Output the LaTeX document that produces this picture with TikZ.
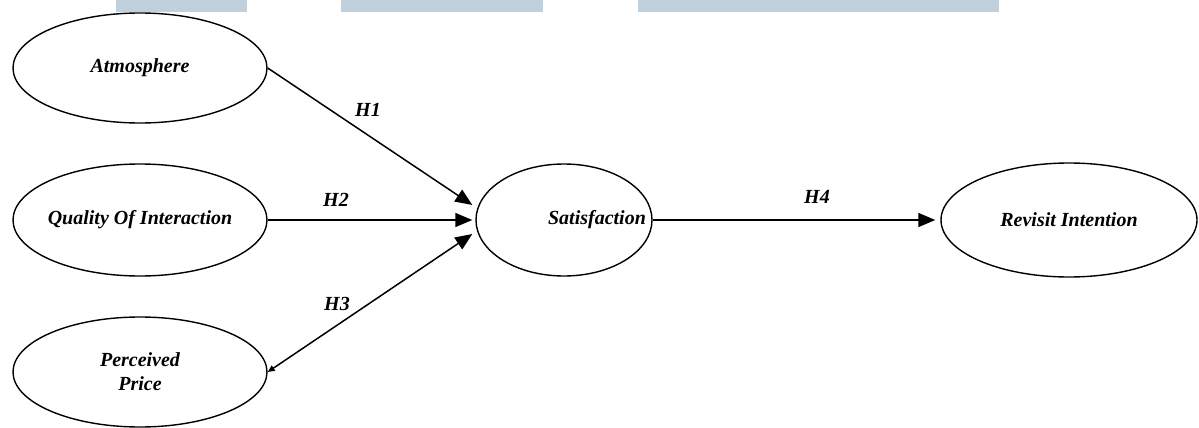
\documentclass[tikz,border=0pt]{standalone}
\usepackage{fontspec}
\setmainfont{Liberation Serif}
\usetikzlibrary{shapes.geometric,arrows.meta}
\definecolor{barblue}{RGB}{193,208,221}
\begin{document}
\begin{tikzpicture}[x=1pt,y=-1pt,
  construct/.style={draw, ellipse, line width=1.4pt, inner sep=0pt, inner xsep=-12pt,
    font=\bfseries\itshape\fontsize{20}{24}\selectfont, align=center},
  hyp/.style={font=\bfseries\itshape\fontsize{20}{24}\selectfont},
  path/.style={line width=1.5pt, -{Triangle[length=17pt,width=14pt]}}]
\useasboundingbox (0,0) rectangle (1199,428);
\fill[barblue] (116,0) rectangle (247,12);
\fill[barblue] (341,0) rectangle (543,12);
\fill[barblue] (638,0) rectangle (999,12);
\node[construct, minimum width=254pt, minimum height=110pt] (atm) at (140,68) {Atmosphere};
\node[construct, minimum width=254pt, minimum height=112pt] (qoi) at (140,220) {Quality Of Interaction};
\node[construct, minimum width=254pt, minimum height=110pt] (pp) at (140,372) {Perceived\\Price};
\node[construct, minimum width=176pt, minimum height=112pt] (sat) at (564,220) {\makebox[0pt]{\hspace*{66pt}Satisfaction}};
\node[construct, minimum width=256pt, minimum height=114pt] (ri) at (1069,220) {Revisit Intention};
\draw[path] (atm.east) -- ([xshift=-3pt,yshift=15pt]sat.west);
\draw[path] (qoi.east) -- ([xshift=-3pt]sat.west);
\draw[path, {Triangle[length=7pt,width=6pt]}-{Triangle[length=17pt,width=14pt]}] (pp.east) -- ([xshift=-3pt,yshift=-14pt]sat.west);
\draw[path] (sat.east) -- ([xshift=-5pt]ri.west);
\node[hyp] (h1) at (368,110) {H1};
\node[hyp] (h2) at (336,200) {H2};
\node[hyp] (h3) at (337,304) {H3};
\node[hyp] (h4) at (817,197) {H4};
\end{tikzpicture}
\end{document}
